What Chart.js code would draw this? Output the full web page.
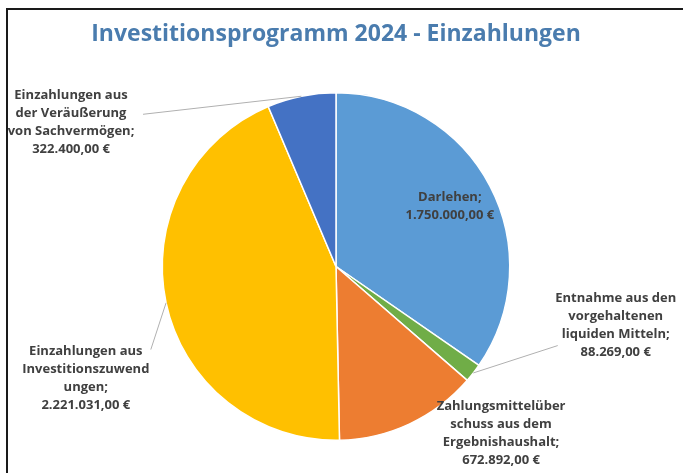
<!DOCTYPE html>
<html lang="de">
<head>
<meta charset="utf-8">
<title>Investitionsprogramm 2024 - Einzahlungen</title>
<script src="https://cdn.jsdelivr.net/npm/chart.js@4.4.1/dist/chart.umd.min.js"></script>
<style>
  html, body { margin: 0; padding: 0; background: #fff; overflow: hidden; }
  #wrap { position: relative; width: 683px; height: 473px; overflow: hidden; }
  #frame {
    position: absolute; left: 6px; top: 8px; width: 720px; height: 520px;
    border-top: 2px solid #1a1a1a; border-left: 2px solid #1a1a1a;
  }
  canvas { position: absolute; left: 0; top: 0; }
</style>
</head>
<body>
<div id="wrap">
  <canvas id="chartEinzahlungen" width="683" height="473"></canvas>
  <div id="frame"></div>
</div>
<script>
const chartTitle = 'Investitionsprogramm 2024 - Einzahlungen';
// Kategorien (so umbrochen wie im Original)
const categories = [
  ['Darlehen;'],
  ['Entnahme aus den', 'vorgehaltenen', 'liquiden Mitteln;'],
  ['Zahlungsmittelüber', 'schuss aus dem', 'Ergebnishaushalt;'],
  ['Einzahlungen aus', 'Investitionszuwend', 'ungen;'],
  ['Einzahlungen aus', 'der Veräußerung', 'von Sachvermögen;']
];
// Beträge in Euro
const values = [1750000, 88269, 672892, 2221031, 322400];
const sliceColors = ['#5B9BD5', '#70AD47', '#ED7D31', '#FFC000', '#4472C4'];

// Label placement, relative to the pie centre in units of the radius
const labelPlacement = [
  { inside: 0.74 },
  { dx: 1.61, dy: 0.34, line: [-58, 20] },
  { dx: 0.95, dy: 0.96 },
  { dx: -1.44, dy: 0.645, line: [65, -29] },
  { dx: -1.525, dy: -0.83, line: [72, -8] }
];

function formatEuro(v) {
  return v.toLocaleString('de-DE', { minimumFractionDigits: 2, maximumFractionDigits: 2 }) + ' €';
}

const sliceLabels = {
  id: 'sliceLabels',
  afterDatasetsDraw(chart) {
    const ctx = chart.ctx;
    const arcs = chart.getDatasetMeta(0).data;
    const lineH = 18;
    ctx.save();

    // title
    ctx.font = 'bold 23px "Open Sans"';
    ctx.fillStyle = '#4a7cae';
    ctx.textAlign = 'center';
    ctx.textBaseline = 'middle';
    ctx.fillText(chartTitle, arcs[0].x, 34);

    ctx.font = 'bold 13px "Open Sans"';
    arcs.forEach((arc, i) => {
      const p = labelPlacement[i];
      const r = arc.outerRadius;
      const mid = (arc.startAngle + arc.endAngle) / 2;
      let cx, cy;
      if (p.inside) {
        cx = arc.x + Math.cos(mid) * r * p.inside;
        cy = arc.y + Math.sin(mid) * r * p.inside;
      } else {
        cx = arc.x + p.dx * r;
        cy = arc.y + p.dy * r;
      }
      if (p.line) {
        ctx.strokeStyle = '#b0b0b0';
        ctx.lineWidth = 1;
        ctx.beginPath();
        ctx.moveTo(cx + p.line[0], cy + p.line[1]);
        ctx.lineTo(arc.x + Math.cos(mid) * r, arc.y + Math.sin(mid) * r);
        ctx.stroke();
      }
      const lines = categories[i].concat([formatEuro(values[i])]);
      ctx.fillStyle = '#404040';
      lines.forEach((t, k) => {
        ctx.fillText(t, cx, cy + (k - (lines.length - 1) / 2) * lineH);
      });
    });
    ctx.restore();
  }
};

new Chart(document.getElementById('chartEinzahlungen'), {
  type: 'pie',
  data: {
    labels: categories.map(c => c.join('')),
    datasets: [{
      data: values,
      backgroundColor: sliceColors,
      borderColor: '#ffffff',
      borderWidth: 1.5
    }]
  },
  options: {
    responsive: false,
    devicePixelRatio: 1,
    animation: false,
    layout: {
      padding: { top: 92, bottom: 32, left: 150, right: 161 }
    },
    plugins: {
      legend: { display: false },
      tooltip: { enabled: false },
      title: { display: false }
    }
  },
  plugins: [sliceLabels]
});
</script>
</body>
</html>
